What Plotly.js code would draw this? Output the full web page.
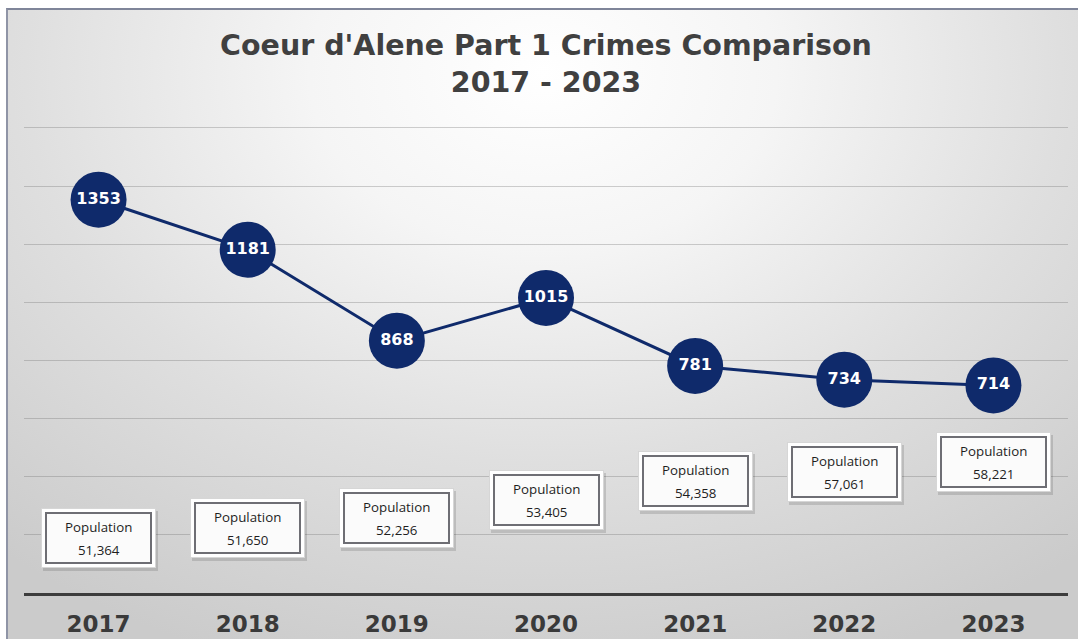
<!DOCTYPE html>
<html>
<head>
<meta charset="utf-8">
<script src="https://cdn.plot.ly/plotly-3.0.1.min.js"></script>
<style>
  html, body { margin: 0; padding: 0; background: #ffffff; }
  #wrap { position: relative; width: 1078px; height: 639px; overflow: hidden; background: #ffffff; }
  #bg { position: absolute; left: 6px; top: 8px; right: 0; bottom: 0;
        border-top: 2px solid #7f8599; border-left: 2px solid #8f94a6;
        background: radial-gradient(ellipse 78% 100% at 50% 10%, #ffffff 0%, #f5f5f5 28%, #dfdfdf 62%, #cbcbcb 100%); }
  #chart { position: absolute; left: 0; top: 0; width: 1078px; height: 639px; }
</style>
</head>
<body>
<div id="wrap">
  <div id="bg"></div>
  <div id="chart"></div>
</div>
<script>
// ---- data ----
const years = ['2017', '2018', '2019', '2020', '2021', '2022', '2023'];
const crimes = [1353, 1181, 868, 1015, 781, 734, 714];
const population = [51364, 51650, 52256, 53405, 54358, 57061, 58221];
// vertical placement of the population boxes (in crime-axis units)
const popLabelY = [189, 224, 258, 320, 385, 416, 451];

const navy = '#0f2a6b';

const trace = {
  type: 'scatter',
  mode: 'lines+markers+text',
  x: years,
  y: crimes,
  text: crimes.map(v => String(v)),
  textposition: 'middle center',
  textfont: { family: 'DejaVu Sans', size: 16, color: '#ffffff', weight: 'bold' },
  line: { color: navy, width: 3 },
  marker: { size: 56, color: navy, line: { width: 0 } },
  cliponaxis: false,
  hoverinfo: 'skip'
};

const annotations = [];
years.forEach((yr, i) => {
  const y = popLabelY[i];
  const base = { x: i, y: y, xref: 'x', yref: 'y', showarrow: false };
  // soft shadow
  annotations.push(Object.assign({}, base, { text: ' ',
    width: 115, height: 60, bgcolor: 'rgba(0,0,0,0.13)', borderwidth: 0, borderpad: 0,
    xshift: 2, yshift: -3 }));
  // outer white frame
  annotations.push(Object.assign({}, base, { text: ' ',
    width: 113, height: 58, bgcolor: '#ffffff', bordercolor: '#d6d6d6', borderwidth: 1, borderpad: 0 }));
  // inner box
  annotations.push(Object.assign({}, base, { text: ' ',
    width: 103, height: 48, bgcolor: '#fbfbfb', bordercolor: '#6e6e74', borderwidth: 2, borderpad: 0 }));
  // texts
  annotations.push(Object.assign({}, base, { text: 'Population',
    font: { family: 'Open Sans', size: 13.3, color: '#1e1e1e' }, yshift: 11 }));
  annotations.push(Object.assign({}, base, { text: population[i].toLocaleString('en-US'),
    font: { family: 'Open Sans', size: 13.3, color: '#1e1e1e' }, yshift: -12 }));
});

const layout = {
  width: 1078,
  height: 639,
  paper_bgcolor: 'rgba(0,0,0,0)',
  plot_bgcolor: 'rgba(0,0,0,0)',
  margin: { l: 24, r: 10, t: 125, b: 46 },
  showlegend: false,
  title: {
    text: "Coeur d'Alene Part 1 Crimes Comparison<br>2017 - 2023",
    font: { family: 'DejaVu Sans', size: 28.5, color: '#404040', weight: 'bold' },
    x: 0.5, xanchor: 'center', xref: 'paper',
    y: 1 - 55 / 639, yanchor: 'top', yref: 'container'
  },
  xaxis: {
    type: 'category',
    range: [-0.5, 6.5], autorange: false,
    showline: true, linecolor: '#3c3c3c', linewidth: 3,
    showgrid: false, zeroline: false,
    ticks: '', ticklabelstandoff: 8,
    tickfont: { family: 'DejaVu Sans', size: 23, color: '#3a3a3a', weight: 'bold' }
  },
  yaxis: {
    range: [0, 1610], autorange: false, dtick: 200, tick0: 0,
    showgrid: true, gridcolor: 'rgba(110,110,110,0.32)', gridwidth: 1,
    showticklabels: false, zeroline: false, showline: false, ticks: ''
  },
  annotations: annotations
};

Plotly.newPlot('chart', [trace], layout, { staticPlot: true, displayModeBar: false });
</script>
</body>
</html>
